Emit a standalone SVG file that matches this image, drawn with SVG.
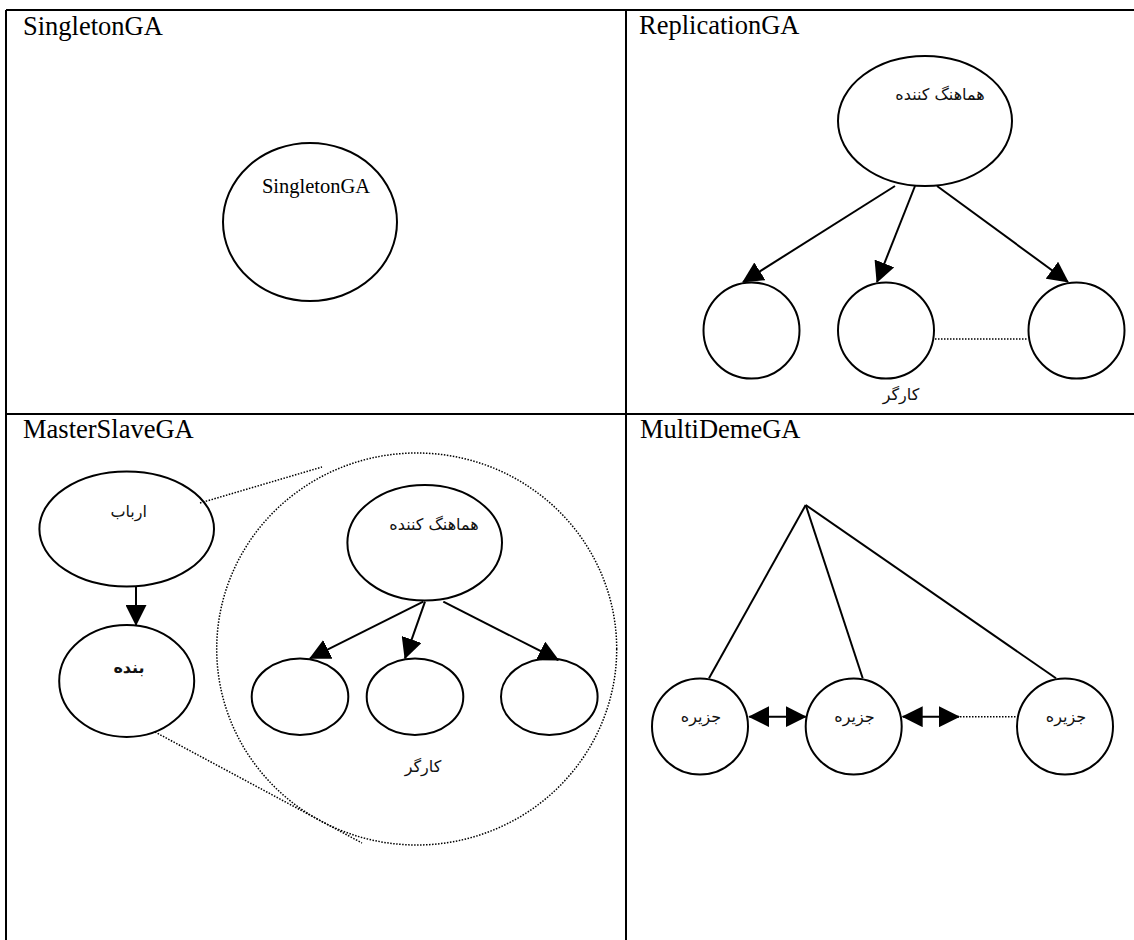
<svg xmlns="http://www.w3.org/2000/svg" width="1134" height="940" viewBox="0 0 1134 940">
<defs>
<style>
.grid{stroke:#000;stroke-width:2;fill:none}
.node{fill:#fff;stroke:#000;stroke-width:2}
.title{font-family:"Liberation Serif","Times New Roman",serif;font-size:26.5px;fill:#000}
.lat{font-family:"Liberation Serif","Times New Roman",serif;font-size:20.5px;fill:#000;text-anchor:middle}
.fa{font-family:"DejaVu Sans","Noto Sans",sans-serif;font-size:16px;fill:#111;text-anchor:middle}
.edge{stroke:#000;stroke-width:2;fill:none}
.dot{stroke:#000;stroke-width:1.5;fill:none;stroke-dasharray:1.5 1.5}
</style>
<marker id="arr" markerUnits="userSpaceOnUse" markerWidth="21" markerHeight="21" viewBox="0 0 21 21" refX="20" refY="10.5" orient="auto-start-reverse">
<path d="M0,0 L21,10.5 L0,21 z" fill="#000"/>
</marker>
</defs>
<rect width="1134" height="940" fill="#fff"/>
<g id="table" class="grid">
<path d="M6,10 H1134 M6,10 V940 M626,10 V940 M6,414 H1134"/>
</g>
<g id="titles" class="title">
<text x="23" y="35">SingletonGA</text>
<text x="639" y="34">ReplicationGA</text>
<text x="23" y="438">MasterSlaveGA</text>
<text x="640" y="438">MultiDemeGA</text>
</g>

<!-- SingletonGA -->
<g id="singleton">
<ellipse class="node" cx="310" cy="222" rx="87" ry="79"/>
<text class="lat" x="316" y="193">SingletonGA</text>
</g>

<!-- ReplicationGA -->
<g id="rep-coordinator">
<ellipse class="node" cx="925" cy="121" rx="87" ry="65"/>
<text class="fa" x="940" y="100">هماهنگ کننده</text>
</g>
<g id="rep-worker1"><circle class="node" cx="751.5" cy="330.5" r="48"/></g>
<g id="rep-worker2"><circle class="node" cx="886" cy="330.5" r="48"/>
<text class="fa" x="901" y="400">کارگر</text></g>
<g id="rep-worker3"><circle class="node" cx="1076.5" cy="330.5" r="48"/></g>

<!-- MasterSlaveGA -->
<g id="ms-group"><ellipse class="dot" cx="416.7" cy="649" rx="200" ry="196"/></g>
<g id="ms-master">
<ellipse class="node" cx="126.7" cy="529" rx="87.3" ry="57.5"/>
<text class="fa" x="128.7" y="517">ارباب</text>
</g>
<g id="ms-slave">
<ellipse class="node" cx="126.7" cy="681" rx="67.5" ry="56"/>
<text class="fa" x="129" y="673" font-weight="bold">بنده</text>
</g>
<g id="ms-coordinator">
<ellipse class="node" cx="424.7" cy="542.8" rx="77.3" ry="57.8"/>
<text class="fa" x="434" y="530">هماهنگ کننده</text>
</g>
<g id="ms-worker1"><ellipse class="node" cx="300" cy="696.7" rx="48.3" ry="38.3"/></g>
<g id="ms-worker2"><ellipse class="node" cx="415" cy="696.7" rx="48.3" ry="38.3"/>
<text class="fa" x="423" y="772">کارگر</text></g>
<g id="ms-worker3"><ellipse class="node" cx="549.3" cy="696.7" rx="48.3" ry="38.3"/></g>

<!-- MultiDemeGA -->
<g id="island1"><circle class="node" cx="700" cy="726.5" r="48"/>
<text class="fa" x="701" y="722">جزیره</text></g>
<g id="island2"><circle class="node" cx="853.7" cy="726.5" r="48"/>
<text class="fa" x="854.5" y="722">جزیره</text></g>
<g id="island3"><circle class="node" cx="1065" cy="726.5" r="48"/>
<text class="fa" x="1066" y="722">جزیره</text></g>

<g id="connectors">
<line class="edge" x1="895" y1="186" x2="743" y2="282" marker-end="url(#arr)"/>
<line class="edge" x1="915" y1="186" x2="877" y2="282" marker-end="url(#arr)"/>
<line class="edge" x1="937" y1="186" x2="1068" y2="282" marker-end="url(#arr)"/>
<line class="dot" x1="935" y1="339" x2="1028" y2="339"/>

<line class="edge" x1="136" y1="587" x2="136" y2="625" marker-end="url(#arr)"/>
<line class="dot" x1="200" y1="503" x2="322" y2="467"/>
<line class="dot" x1="155" y1="732" x2="362" y2="843"/>
<line class="edge" x1="423.3" y1="601.7" x2="310" y2="658.3" marker-end="url(#arr)"/>
<line class="edge" x1="425" y1="601.7" x2="405" y2="658.3" marker-end="url(#arr)"/>
<line class="edge" x1="443.3" y1="601.7" x2="558.3" y2="660" marker-end="url(#arr)"/>

<line class="edge" x1="805.7" y1="505" x2="709" y2="678.3"/>
<line class="edge" x1="805.7" y1="505" x2="862.7" y2="678.3"/>
<line class="edge" x1="805.7" y1="505" x2="1056" y2="678.3"/>
<line class="edge" x1="749.3" y1="716.7" x2="805.7" y2="716.7" marker-start="url(#arr)" marker-end="url(#arr)"/>
<line class="edge" x1="902.7" y1="716.7" x2="959" y2="716.7" marker-start="url(#arr)" marker-end="url(#arr)"/>
<line class="dot" x1="960" y1="716.7" x2="1016" y2="716.7"/>
</g>
</svg>
